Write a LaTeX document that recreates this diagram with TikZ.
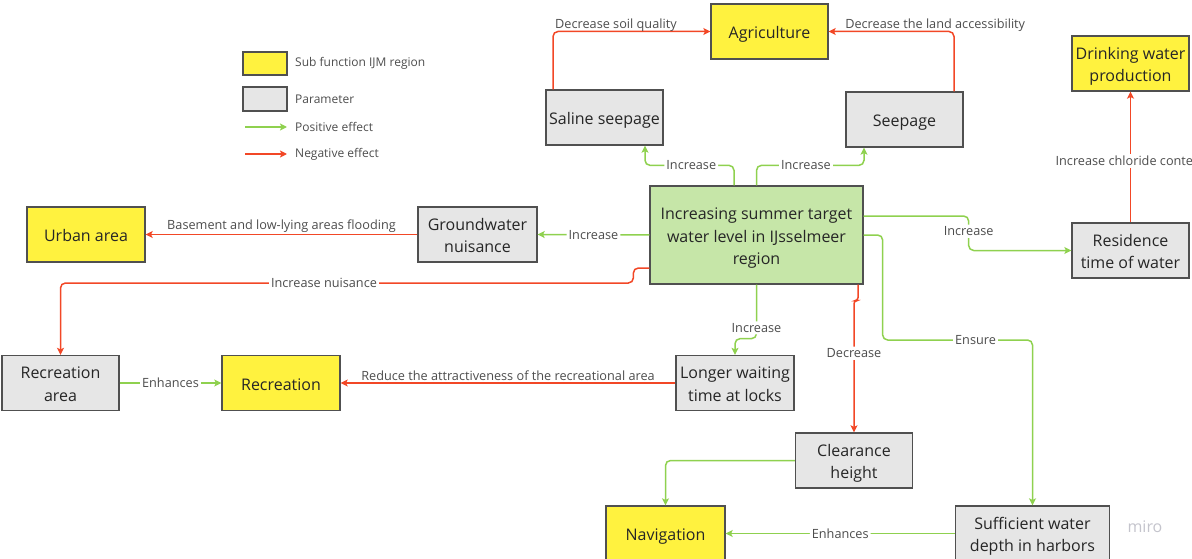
\documentclass[tikz,border=0pt]{standalone}
\usepackage{fontspec}
\setmainfont{Open Sans}
\usetikzlibrary{arrows.meta}
\definecolor{subyellow}{HTML}{FFF23F}
\definecolor{paramgray}{HTML}{E6E6E6}
\definecolor{maingreen}{HTML}{C6E6A8}
\definecolor{boxborder}{HTML}{505050}
\definecolor{boxtext}{HTML}{262626}
\definecolor{lbltext}{HTML}{4D4D4D}
\definecolor{posgreen}{HTML}{8FD14F}
\definecolor{negred}{HTML}{F24726}
\definecolor{mirogray}{HTML}{C4C4CC}
\newcommand\boxtxt[1]{\raisebox{-2.5pt}[\height][\depth]{\begin{tabular}{@{}c@{}}#1\end{tabular}}}
\begin{document}
\begin{tikzpicture}[x=1pt,y=-1pt,
  box/.style={draw=boxborder, line width=1.3pt, minimum width=117pt, minimum height=55pt,
    inner sep=1pt, font=\fontsize{16}{22.5}\selectfont, text=boxtext},
  sub/.style={box, fill=subyellow},
  param/.style={box, fill=paramgray},
  posline/.style={draw=posgreen, line width=1.5pt, rounded corners=5pt,
    -{Stealth[length=7pt,width=7pt,inset=1.5pt]}},
  negline/.style={draw=negred, line width=1.5pt, rounded corners=5pt,
    -{Stealth[length=7pt,width=7pt,inset=1.5pt]}},
  lbl/.style={fill=white, text=lbltext, font=\fontsize{12.7}{14}\selectfont, inner sep=2pt},
  lblup/.style={text=lbltext, font=\fontsize{12.7}{14}\selectfont, inner sep=1.5pt, above},
  legtxt/.style={text=lbltext, font=\fontsize{12}{14}\selectfont, anchor=west, inner sep=0pt}
]
\useasboundingbox (0,0) rectangle (1192,559);

% nodes
\node[sub] (agri) at (769.5,31.5) {\boxtxt{Agriculture}};
\node[param] (saline) at (604.5,117.5) {\boxtxt{Saline seepage}};
\node[param] (seep) at (904.5,119.5) {\boxtxt{Seepage}};
\node[box, fill=maingreen, minimum width=213pt, minimum height=98pt] (main) at (756.5,235)
  {\boxtxt{Increasing summer target\\water level in IJsselmeer\\region}};
\node[sub] (drink) at (1130.5,63.5) {\boxtxt{Drinking water\\production}};
\node[param] (resid) at (1130.5,250.5) {\boxtxt{Residence\\time of water}};
\node[sub, minimum width=118pt] (urban) at (86,234.5) {\boxtxt{Urban area}};
\node[param, minimum width=119pt] (ground) at (477.5,234.5) {\boxtxt{Groundwater\\nuisance}};
\node[param] (recarea) at (60.5,383) {\boxtxt{Recreation\\area}};
\node[sub, minimum width=118pt] (recr) at (281,383) {\boxtxt{Recreation}};
\node[param, minimum width=118pt] (wait) at (735,383) {\boxtxt{Longer waiting\\time at locks}};
\node[param] (clear) at (854,460.5) {\boxtxt{Clearance\\height}};
\node[sub, minimum width=119pt] (nav) at (665.5,533.5) {\boxtxt{Navigation}};
\node[param, minimum width=154pt] (suff) at (1032.5,533.5) {\boxtxt{Sufficient water\\depth in harbors}};

% legend
\node[sub, minimum width=44pt, minimum height=23pt] (legsub) at (265,63.5) {};
\node[legtxt] (legsubt) at (295,63.5) {Sub function IJM region};
\node[param, minimum width=44pt, minimum height=24pt] (legpar) at (265,99) {};
\node[legtxt] (legpart) at (295,99) {Parameter};
\coordinate (lp1) at (245,127);
\coordinate (lp2) at (287,127);
\node[legtxt] (legpost) at (295,127) {Positive effect};
\coordinate (ln1) at (245,154);
\coordinate (ln2) at (287,154);
\node[legtxt] (legnegt) at (295,154) {Negative effect};
\draw[posline] (lp1) -- (lp2);
\draw[negline] (ln1) -- (ln2);

% connectors
\draw[negline] ([xshift=-51.5pt]saline.north) |- node[lblup, pos=0.7, yshift=-2pt] {Decrease soil quality} (agri.west);
\draw[negline] ([xshift=49.5pt]seep.north) |- node[lblup, pos=0.575, yshift=-2pt] {Decrease the land accessibility} (agri.east);
\draw[posline] ([xshift=-22.5pt]main.north) -- ++(0,-20) -| node[lbl, pos=0.24] {Increase} ([xshift=40.5pt]saline.south);
\draw[posline] (main.north) -- ++(0,-20) -| node[lbl, pos=0.23] {Increase} ([xshift=-40.5pt]seep.south);
\draw[posline] ([yshift=19pt]main.east) -- ++(105,0) |- node[lbl, pos=0.22] {Increase} (resid.west);
\draw[negline] (resid.north) -- node[lbl, pos=0.47] {Increase chloride content} (drink.south);
\draw[posline] (main.east) -- ++(19,0) -- ++(0,105) -| node[lbl, pos=0.31] {Ensure} (suff.north);
\draw[negline, rounded corners=3pt] ([xshift=101.5pt]main.south) -- ++(0,16) -| node[lbl, pos=0.7] {Decrease} (clear.north);
\draw[posline] (main.south) -- node[lbl, pos=0.8] {Increase} ++(0,54) -| (wait.north);
\draw[posline] (main.west) -- node[lbl] {Increase} (ground.east);
\draw[negline] (ground.west) -- node[lblup] {Basement and low-lying areas flooding} (urban.east);
\draw[negline] ([yshift=-33pt]main.west) -| ++(-16,15) -| node[lbl, pos=0.27] {Increase nuisance} (recarea.north);
\draw[posline] (recarea.east) -- node[lbl] {Enhances} (recr.west);
\draw[negline] (wait.west) -- node[lblup] {Reduce the attractiveness of the recreational area} (recr.east);
\draw[posline] (clear.west) -| (nav.north);
\draw[posline] (suff.west) -- node[lbl] {Enhances} (nav.east);

% watermark
\node[text=mirogray, font=\fontsize{16}{18}\selectfont] (miro) at (1145,527) {miro};
\end{tikzpicture}
\end{document}
